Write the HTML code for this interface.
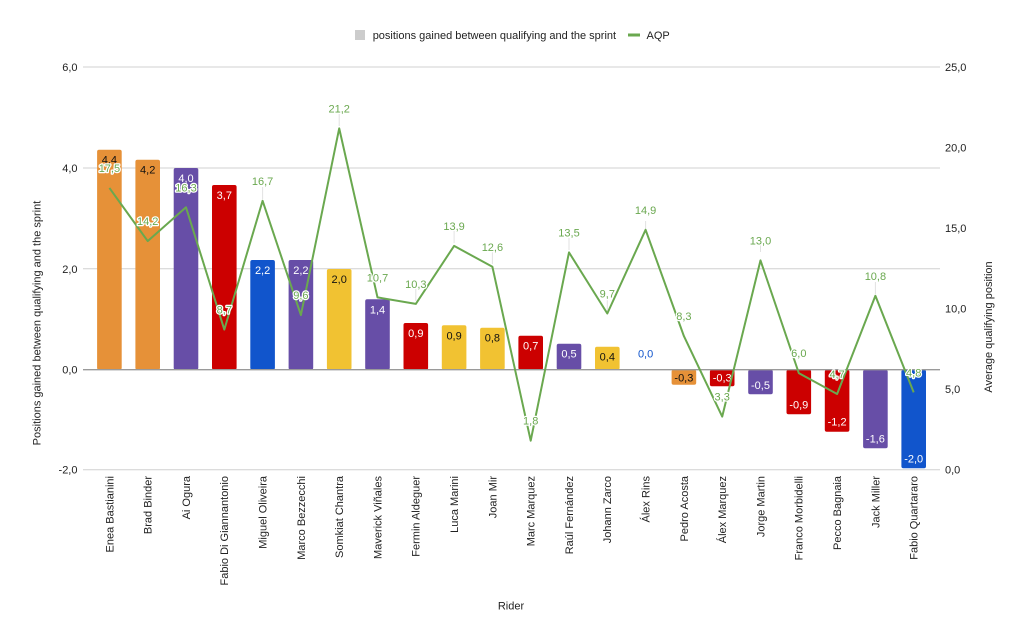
<!DOCTYPE html>
<html><head><meta charset="utf-8"><style>
html,body{margin:0;padding:0;background:#fff;}
svg{display:block;font-family:"Liberation Sans",Arial,sans-serif;}
</style></head><body>
<svg width="1023" height="640" viewBox="0 0 1023 640" xmlns="http://www.w3.org/2000/svg">
<rect width="1023" height="640" fill="#fff"/>
<!-- legend -->
<rect x="355" y="30" width="10" height="10" fill="#cccccc"/>
<text x="372.7" y="39" font-size="11" fill="#222">positions gained between qualifying and the sprint</text>
<rect x="628" y="33.5" width="12" height="3" fill="#6aa84f"/>
<text x="646.5" y="39" font-size="11" fill="#222">AQP</text>
<!-- gridlines -->
<g stroke="#d0d0d0" stroke-width="1">
<line x1="83" y1="67" x2="940" y2="67"/>
<line x1="83" y1="168" x2="940" y2="168"/>
<line x1="83" y1="268.8" x2="940" y2="268.8"/>
<line x1="83" y1="469.7" x2="940" y2="469.7"/>
</g>
<!-- left ticks -->
<g font-size="11" fill="#222" text-anchor="end">
<text x="77.5" y="71">6,0</text>
<text x="77.5" y="172">4,0</text>
<text x="77.5" y="272.8">2,0</text>
<text x="77.5" y="373.7">0,0</text>
<text x="77.5" y="473.7">-2,0</text>
</g>
<!-- right ticks -->
<g font-size="11" fill="#222">
<text x="945" y="71">25,0</text>
<text x="945" y="151.5">20,0</text>
<text x="945" y="232">15,0</text>
<text x="945" y="312.6">10,0</text>
<text x="945" y="393">5,0</text>
<text x="945" y="473.7">0,0</text>
</g>
<!-- axis titles -->
<text transform="translate(36.5,323) rotate(-90)" text-anchor="middle" dy="0.35em" font-size="11" fill="#222">Positions gained between qualifying and the sprint</text>
<text transform="translate(988,327) rotate(-90)" text-anchor="middle" dy="0.35em" font-size="11" fill="#222">Average qualifying position</text>
<text x="511" y="609.5" text-anchor="middle" font-size="11" fill="#222">Rider</text>
<!-- bars -->
<g>
<rect x="97.1" y="149.7" width="24.6" height="220" rx="2" fill="#e69138"/>
<rect x="135.4" y="159.7" width="24.6" height="210" rx="2" fill="#e69138"/>
<rect x="173.7" y="168" width="24.6" height="201.7" rx="2" fill="#674ea7"/>
<rect x="212" y="185" width="24.6" height="184.7" rx="2" fill="#cc0000"/>
<rect x="250.3" y="260" width="24.6" height="109.7" rx="2" fill="#1155cc"/>
<rect x="288.6" y="260" width="24.6" height="109.7" rx="2" fill="#674ea7"/>
<rect x="326.9" y="269" width="24.6" height="100.7" rx="2" fill="#f1c232"/>
<rect x="365.2" y="299.3" width="24.6" height="70.4" rx="2" fill="#674ea7"/>
<rect x="403.5" y="323" width="24.6" height="46.7" rx="2" fill="#cc0000"/>
<rect x="441.8" y="325.3" width="24.6" height="44.4" rx="2" fill="#f1c232"/>
<rect x="480.1" y="327.7" width="24.6" height="42" rx="2" fill="#f1c232"/>
<rect x="518.4" y="335.7" width="24.6" height="34" rx="2" fill="#cc0000"/>
<rect x="556.7" y="343.7" width="24.6" height="26" rx="2" fill="#674ea7"/>
<rect x="595" y="346.7" width="24.6" height="23" rx="2" fill="#f1c232"/>
<rect x="671.6" y="369.7" width="24.6" height="15" rx="2" fill="#e69138"/>
<rect x="709.9" y="369.7" width="24.6" height="16.6" rx="2" fill="#cc0000"/>
<rect x="748.2" y="369.7" width="24.6" height="24.6" rx="2" fill="#674ea7"/>
<rect x="786.5" y="369.7" width="24.6" height="44.6" rx="2" fill="#cc0000"/>
<rect x="824.8" y="369.7" width="24.6" height="62" rx="2" fill="#cc0000"/>
<rect x="863.1" y="369.7" width="24.6" height="78.6" rx="2" fill="#674ea7"/>
<rect x="901.4" y="369.7" width="24.6" height="98.6" rx="2" fill="#1155cc"/>
</g>
<!-- zero line -->
<line x1="83" y1="369.7" x2="940" y2="369.7" stroke="#9a9a9a" stroke-width="1.3"/>
<!-- bar labels -->
<g font-size="11" text-anchor="middle">
<text x="109.4" y="163.7" fill="#111">4,4</text>
<text x="147.7" y="173.7" fill="#111">4,2</text>
<text x="186" y="182" fill="#fff">4,0</text>
<text x="224.3" y="199" fill="#fff">3,7</text>
<text x="262.6" y="274" fill="#fff">2,2</text>
<text x="300.9" y="274" fill="#fff">2,2</text>
<text x="339.2" y="283" fill="#111">2,0</text>
<text x="377.5" y="313.3" fill="#fff">1,4</text>
<text x="415.8" y="337" fill="#fff">0,9</text>
<text x="454.1" y="339.3" fill="#111">0,9</text>
<text x="492.4" y="341.7" fill="#111">0,8</text>
<text x="530.7" y="349.7" fill="#fff">0,7</text>
<text x="569" y="357.7" fill="#fff">0,5</text>
<text x="607.3" y="360.7" fill="#111">0,4</text>
<text x="645.6" y="357.5" fill="#1155cc">0,0</text>
<text x="683.9" y="381.7" fill="#111">-0,3</text>
<text x="722.2" y="381.7" fill="#fff">-0,3</text>
<text x="760.5" y="389" fill="#fff">-0,5</text>
<text x="798.8" y="408.3" fill="#fff">-0,9</text>
<text x="837.1" y="425.7" fill="#fff">-1,2</text>
<text x="875.4" y="442.3" fill="#fff">-1,6</text>
<text x="913.7" y="462.3" fill="#fff">-2,0</text>
</g>
<!-- leader lines -->
<g stroke="#e2e2e2" stroke-width="1">
<line x1="262.6" y1="187" x2="262.6" y2="199"/>
<line x1="339.2" y1="114" x2="339.2" y2="126"/>
<line x1="415.8" y1="289" x2="415.8" y2="301"/>
<line x1="454.1" y1="231" x2="454.1" y2="243"/>
<line x1="492.4" y1="252" x2="492.4" y2="264"/>
<line x1="569" y1="238" x2="569" y2="250"/>
<line x1="607.3" y1="299" x2="607.3" y2="311"/>
<line x1="645.6" y1="221" x2="645.6" y2="233"/>
<line x1="760.5" y1="240" x2="760.5" y2="252"/>
<line x1="875.4" y1="282" x2="875.4" y2="294"/>
</g>
<!-- AQP line -->
<polyline fill="none" stroke="#6aa84f" stroke-width="2" stroke-linejoin="round"
points="109.4,187.95 147.7,241.1 186,207.3 224.3,329.6 262.6,200.8 300.9,315.1 339.2,128.4 377.5,297.4 415.8,303.9 454.1,245.9 492.4,266.8 530.7,440.7 569,252.4 607.3,313.5 645.6,229.8 683.9,336.1 722.2,416.6 760.5,260.4 798.8,373.1 837.1,394.0 875.4,295.8 913.7,392.4"/>
<!-- AQP labels -->
<g font-size="11" text-anchor="middle" fill="#6aa84f" stroke="#fff" stroke-width="2.5" paint-order="stroke" stroke-linejoin="round">
<text x="109.4" y="172">17,5</text>
<text x="147.7" y="225.1">14,2</text>
<text x="186" y="191.3">16,3</text>
<text x="224.3" y="313.6">8,7</text>
<text x="262.6" y="184.8">16,7</text>
<text x="300.9" y="299.1">9,6</text>
<text x="339.2" y="112.4">21,2</text>
<text x="377.5" y="281.4">10,7</text>
<text x="415.8" y="287.9">10,3</text>
<text x="454.1" y="229.9">13,9</text>
<text x="492.4" y="250.8">12,6</text>
<text x="530.7" y="424.7">1,8</text>
<text x="569" y="236.4">13,5</text>
<text x="607.3" y="297.5">9,7</text>
<text x="645.6" y="213.8">14,9</text>
<text x="683.9" y="320.1">8,3</text>
<text x="722.2" y="400.6">3,3</text>
<text x="760.5" y="244.4">13,0</text>
<text x="798.8" y="357.1">6,0</text>
<text x="837.1" y="378">4,7</text>
<text x="875.4" y="279.8">10,8</text>
<text x="913.7" y="376.4">4,8</text>
</g>
<!-- rider labels -->
<g font-size="11" fill="#222" text-anchor="end">
<text transform="translate(109.4,476) rotate(-90)" dy="0.35em">Enea Bastianini</text>
<text transform="translate(147.7,476) rotate(-90)" dy="0.35em">Brad Binder</text>
<text transform="translate(186,476) rotate(-90)" dy="0.35em">Ai Ogura</text>
<text transform="translate(224.3,476) rotate(-90)" dy="0.35em">Fabio Di Giannantonio</text>
<text transform="translate(262.6,476) rotate(-90)" dy="0.35em">Miguel Oliveira</text>
<text transform="translate(300.9,476) rotate(-90)" dy="0.35em">Marco Bezzecchi</text>
<text transform="translate(339.2,476) rotate(-90)" dy="0.35em">Somkiat Chantra</text>
<text transform="translate(377.5,476) rotate(-90)" dy="0.35em">Maverick Viñales</text>
<text transform="translate(415.8,476) rotate(-90)" dy="0.35em">Fermin Aldeguer</text>
<text transform="translate(454.1,476) rotate(-90)" dy="0.35em">Luca Marini</text>
<text transform="translate(492.4,476) rotate(-90)" dy="0.35em">Joan Mir</text>
<text transform="translate(530.7,476) rotate(-90)" dy="0.35em">Marc Marquez</text>
<text transform="translate(569,476) rotate(-90)" dy="0.35em">Raúl Fernández</text>
<text transform="translate(607.3,476) rotate(-90)" dy="0.35em">Johann Zarco</text>
<text transform="translate(645.6,476) rotate(-90)" dy="0.35em">Álex Rins</text>
<text transform="translate(683.9,476) rotate(-90)" dy="0.35em">Pedro Acosta</text>
<text transform="translate(722.2,476) rotate(-90)" dy="0.35em">Álex Marquez</text>
<text transform="translate(760.5,476) rotate(-90)" dy="0.35em">Jorge Martin</text>
<text transform="translate(798.8,476) rotate(-90)" dy="0.35em">Franco Morbidelli</text>
<text transform="translate(837.1,476) rotate(-90)" dy="0.35em">Pecco Bagnaia</text>
<text transform="translate(875.4,476) rotate(-90)" dy="0.35em">Jack Miller</text>
<text transform="translate(913.7,476) rotate(-90)" dy="0.35em">Fabio Quartararo</text>
</g>
</svg>
</body></html>
